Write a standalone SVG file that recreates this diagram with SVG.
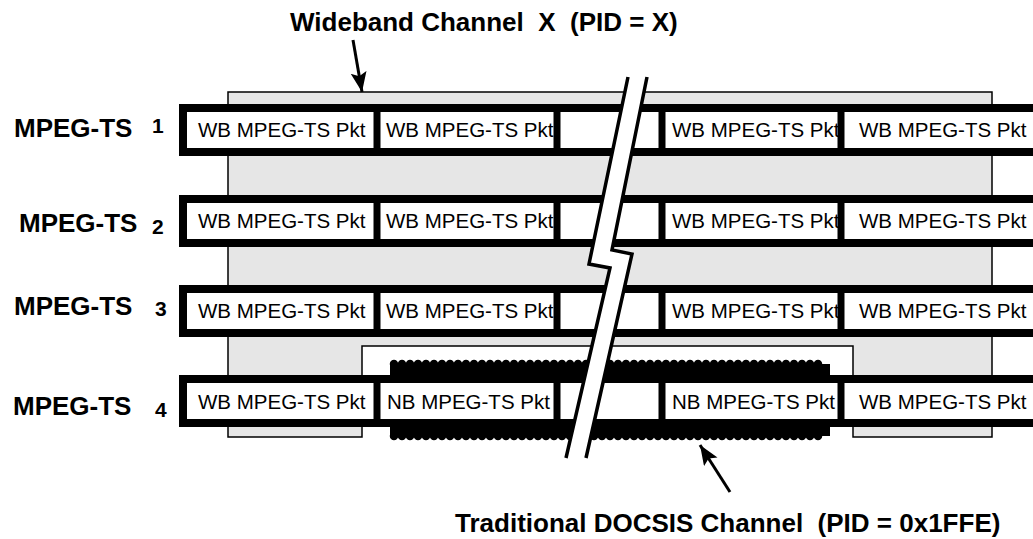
<svg xmlns="http://www.w3.org/2000/svg" width="1033" height="539" viewBox="0 0 1033 539">
<defs>
<style>
.lbl{font-family:"Liberation Sans",Arial,sans-serif;font-weight:bold;font-size:26px;fill:#000;white-space:pre}
.num{font-family:"Liberation Sans",Arial,sans-serif;font-weight:bold;font-size:21px;fill:#000}
.pkt{font-family:"Liberation Sans",Arial,sans-serif;font-size:20.5px;fill:#000}
.frame{fill:#fff;stroke:#000;stroke-width:8}
.dv{stroke:#000;stroke-width:7}
.scal{stroke:#000;stroke-width:8.5;stroke-linecap:round;stroke-dasharray:0 8;fill:none}
.edge{fill:none;stroke:#000;stroke-width:3.5;stroke-linejoin:miter}
.arr{stroke:#000;stroke-width:3;fill:none;marker-end:url(#ah)}
</style>
<marker id="ah" markerUnits="userSpaceOnUse" markerWidth="22" markerHeight="18" refX="20" refY="8" orient="auto" viewBox="0 0 22 18">
<path d="M0,0 L20,8 L0,16 L4,8 z" fill="#000"/>
</marker>
</defs>
<rect width="1033" height="539" fill="#fff"/>

<g id="wideband-area">
<polygon points="228,92 992,92 992,437 853,437 853,346 362,346 362,437 228,437" fill="#e6e6e6" stroke="#000" stroke-width="1.5"/>
</g>

<g id="row1">
<rect class="frame" x="183" y="108" width="900" height="44"/>
<text class="pkt" x="198" y="137">WB MPEG-TS Pkt</text>
<text class="pkt" x="386" y="137">WB MPEG-TS Pkt</text>
<text class="pkt" x="672" y="137">WB MPEG-TS Pkt</text>
<text class="pkt" x="859" y="137">WB MPEG-TS Pkt</text>
<line class="dv" x1="377" y1="104" x2="377" y2="156"/>
<line class="dv" x1="557" y1="104" x2="557" y2="156"/>
<line class="dv" x1="662" y1="104" x2="662" y2="156"/>
<line class="dv" x1="841" y1="104" x2="841" y2="156"/>
</g>

<g id="row2">
<rect class="frame" x="183" y="199" width="900" height="44"/>
<text class="pkt" x="198" y="228">WB MPEG-TS Pkt</text>
<text class="pkt" x="386" y="228">WB MPEG-TS Pkt</text>
<text class="pkt" x="672" y="228">WB MPEG-TS Pkt</text>
<text class="pkt" x="859" y="228">WB MPEG-TS Pkt</text>
<line class="dv" x1="377" y1="195" x2="377" y2="247"/>
<line class="dv" x1="557" y1="195" x2="557" y2="247"/>
<line class="dv" x1="662" y1="195" x2="662" y2="247"/>
<line class="dv" x1="841" y1="195" x2="841" y2="247"/>
</g>

<g id="row3">
<rect class="frame" x="183" y="289" width="900" height="44"/>
<text class="pkt" x="198" y="318">WB MPEG-TS Pkt</text>
<text class="pkt" x="386" y="318">WB MPEG-TS Pkt</text>
<text class="pkt" x="672" y="318">WB MPEG-TS Pkt</text>
<text class="pkt" x="859" y="318">WB MPEG-TS Pkt</text>
<line class="dv" x1="377" y1="285" x2="377" y2="337"/>
<line class="dv" x1="557" y1="285" x2="557" y2="337"/>
<line class="dv" x1="662" y1="285" x2="662" y2="337"/>
<line class="dv" x1="841" y1="285" x2="841" y2="337"/>
</g>

<g id="row4">
<rect x="390" y="364" width="440" height="15" fill="#000"/>
<line class="scal" x1="394" y1="364" x2="826" y2="364"/>
<rect x="390" y="423" width="440" height="13" fill="#000"/>
<line class="scal" x1="394" y1="436" x2="826" y2="436"/>
<rect class="frame" x="183" y="379" width="900" height="44"/>
<text class="pkt" x="198" y="409">WB MPEG-TS Pkt</text>
<text class="pkt" x="387" y="409">NB MPEG-TS Pkt</text>
<text class="pkt" x="672" y="409">NB MPEG-TS Pkt</text>
<text class="pkt" x="859" y="409">WB MPEG-TS Pkt</text>
<line class="dv" x1="377" y1="375" x2="377" y2="427"/>
<line class="dv" x1="557" y1="375" x2="557" y2="427"/>
<line class="dv" x1="662" y1="375" x2="662" y2="427"/>
<line class="dv" x1="841" y1="375" x2="841" y2="427"/>
</g>

<g id="break">
<polygon points="628,77 647,77 612,250 632,254 586,458 566,458 610,268 589,264" fill="#fff"/>
<polyline class="edge" points="628,77 589,264 610,268 566,458"/>
<polyline class="edge" points="647,77 612,250 632,254 586,458"/>
</g>

<g id="labels">
<text class="lbl" x="290" y="31">Wideband Channel  X  (PID = X)</text>
<text class="lbl" x="455" y="532">Traditional DOCSIS Channel  (PID = 0x1FFE)</text>
<text class="lbl" x="14" y="137">MPEG-TS</text>
<text class="num" x="152" y="133">1</text>
<text class="lbl" x="19" y="232">MPEG-TS</text>
<text class="num" x="152" y="234">2</text>
<text class="lbl" x="14" y="315">MPEG-TS</text>
<text class="num" x="155" y="316">3</text>
<text class="lbl" x="13" y="415">MPEG-TS</text>
<text class="num" x="155" y="417">4</text>
</g>

<g id="connectors">
<line class="arr" x1="353" y1="40" x2="362" y2="92"/>
<line class="arr" x1="730" y1="492" x2="700" y2="445"/>
</g>
</svg>
